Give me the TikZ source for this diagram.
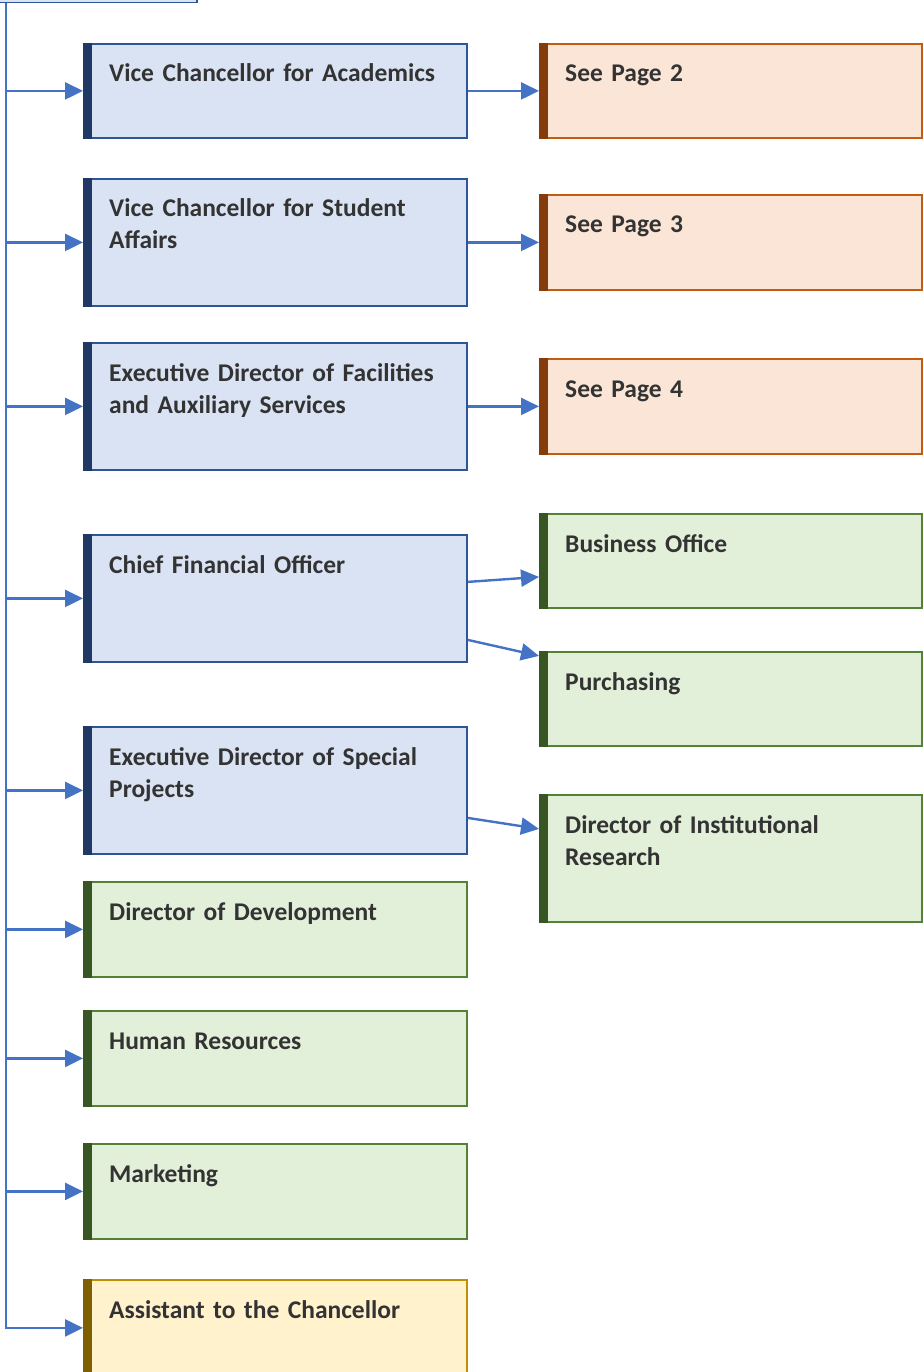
\documentclass[tikz,border=0pt]{standalone}
\usepackage{fontspec}
\setmainfont{Carlito}
\usetikzlibrary{arrows.meta,calc}
\definecolor{bluefill}{HTML}{DAE3F3}
\definecolor{blueborder}{HTML}{2F5597}
\definecolor{bluebar}{HTML}{1F3864}
\definecolor{orangefill}{HTML}{FBE5D6}
\definecolor{orangeborder}{HTML}{C55A11}
\definecolor{orangebar}{HTML}{843C0C}
\definecolor{greenfill}{HTML}{E2EFD9}
\definecolor{greenborder}{HTML}{548235}
\definecolor{greenbar}{HTML}{375623}
\definecolor{yellowfill}{HTML}{FFF2CC}
\definecolor{yellowborder}{HTML}{BF9000}
\definecolor{yellowbar}{HTML}{7F6000}
\definecolor{connblue}{HTML}{4472C4}
\definecolor{txtgray}{HTML}{333333}
\tikzset{
  orgbox/.style={rectangle, line width=1.8pt, inner sep=0pt, anchor=north west},
  bluebox/.style={orgbox, draw=blueborder, fill=bluefill},
  orangebox/.style={orgbox, draw=orangeborder, fill=orangefill},
  greenbox/.style={orgbox, draw=greenborder, fill=greenfill},
  yellowbox/.style={orgbox, draw=yellowborder, fill=yellowfill},
  boxtext/.style={anchor=base west, inner sep=0pt, text width=355pt, align=left,
    text=txtgray, font=\fontsize{25.5}{32}\selectfont\bfseries},
  conn/.style={draw=connblue, line width=2.4pt},
  arr/.style={conn, -{Triangle[length=18pt,width=17pt]}},
}
% #1 name, #2 colour family, #3 x, #4 top, #5 width, #6 height, #7 text
\newcommand\orgnode[7]{%
  \node[#2box, minimum width=#5pt, minimum height=#6pt] (#1) at (#3,#4) {};
  \fill[#2bar] ($(#1.north west)+(0,0)$) rectangle ($(#1.south west)+(9,0)$);
  \node[boxtext] (#1t) at ($(#1.north west)+(26,39)$) {#7};
}
\begin{document}
\begin{tikzpicture}[x=1pt,y=-1pt]
\useasboundingbox (0,0) rectangle (923,1372);
% top (cropped) box
\node[bluebox, minimum width=220pt, minimum height=60pt, anchor=south east] (top) at (198,3.5) {};
\coordinate (trunk) at (6,0);
% left column
\orgnode{b1}{blue}{83}{43}{383}{94}{Vice Chancellor for Academics}
\orgnode{b2}{blue}{83}{178}{383}{127}{Vice Chancellor for Student\\Affairs}
\orgnode{b3}{blue}{83}{342}{383}{127}{Executive Director of Facilities\\and Auxiliary Services}
\orgnode{b4}{blue}{83}{534}{383}{127}{Chief Financial Officer}
\orgnode{b5}{blue}{83}{726}{383}{127}{Executive Director of Special\\Projects}
\orgnode{b6}{green}{83}{881}{383}{95}{Director of Development}
\orgnode{b7}{green}{83}{1010}{383}{95}{Human Resources}
\orgnode{b8}{green}{83}{1143}{383}{95}{Marketing}
\orgnode{b9}{yellow}{83}{1279}{383}{96}{Assistant to the Chancellor}
% right column
\orgnode{r1}{orange}{539}{43}{382}{94}{See Page 2}
\orgnode{r2}{orange}{539}{194}{382}{95}{See Page 3}
\orgnode{r3}{orange}{539}{358}{382}{95}{See Page 4}
\orgnode{r4}{green}{539}{513}{382}{94}{Business Office}
\orgnode{r5}{green}{539}{651}{382}{94}{Purchasing}
\orgnode{r6}{green}{539}{794}{382}{127}{Director of Institutional\\Research}
% trunk and branches
\draw[arr] (trunk |- top.south) -- (trunk |- b9.west) -- (b9.west);
\foreach \b in {b1,b2,b3,b4,b5,b6,b7,b8}{
  \draw[arr] (trunk |- \b.west) -- (\b.west);
}
\draw[arr] (b1.east) -- (r1.west);
\draw[arr] (b2.east) -- (r2.west);
\draw[arr] (b3.east) -- (r3.west);
\draw[arr] ($(b4.east)+(0,-16.5)$) -- ($(r4.west)+(0,16)$);
\draw[arr] ($(b4.east)+(0,41.5)$) -- ($(r5.west)+(0,-43)$);
\draw[arr] ($(b5.east)+(0,27.5)$) -- ($(r6.west)+(0,-29.5)$);
\end{tikzpicture}
\end{document}
